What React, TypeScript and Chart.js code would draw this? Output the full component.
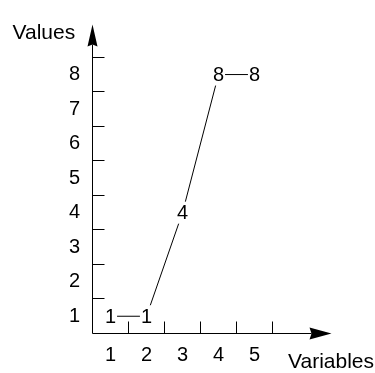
import { useEffect, useRef } from 'react';
import { Chart, registerables } from 'chart.js';

Chart.register(...registerables);

const xValues = [1, 2, 3, 4, 5];
const values = [1, 1, 4, 8, 8];
const xTickLabels = ['1', '2', '3', '4', '5'];
const yTickValues = [1, 2, 3, 4, 5, 6, 7, 8];
const yTickLabels = ['1', '2', '3', '4', '5', '6', '7', '8'];
const xTitle = 'Variables';
const yTitle = 'Values';

const FONT = '"Liberation Sans", Arial, Helvetica, sans-serif';
const FONT_SIZE = 20;
const TITLE_SIZE = 21;

const decorPlugin = {
  id: 'decor',
  beforeDatasetsDraw(chart: any) {
    const { ctx, chartArea: a, scales } = chart;
    const xs = scales.x;
    const ys = scales.y;
    const x0 = xs.getPixelForValue(0.5);
    const y0 = ys.getPixelForValue(0.5);
    ctx.save();
    ctx.strokeStyle = '#000';
    ctx.lineWidth = 1;
    ctx.beginPath();
    ctx.moveTo(x0, y0);
    ctx.lineTo(a.right - 20, y0);
    ctx.moveTo(x0, y0);
    ctx.lineTo(x0, a.top + 20);
    for (let i = 0; i < xValues.length; i++) {
      const px = Math.floor(xs.getPixelForValue(xValues[i] + 0.5)) + 0.5;
      ctx.moveTo(px, y0);
      ctx.lineTo(px, y0 - 12);
    }
    for (let i = 0; i < yTickValues.length; i++) {
      const py = Math.floor(ys.getPixelForValue(yTickValues[i] + 0.5)) + 0.5;
      ctx.moveTo(x0, py);
      ctx.lineTo(x0 + 12, py);
    }
    ctx.stroke();
    ctx.fillStyle = '#000';
    ctx.beginPath();
    ctx.moveTo(a.right, y0);
    ctx.lineTo(a.right - 22, y0 - 6);
    ctx.lineTo(a.right - 20, y0);
    ctx.lineTo(a.right - 22, y0 + 6);
    ctx.closePath();
    ctx.fill();
    ctx.beginPath();
    ctx.moveTo(x0, a.top);
    ctx.lineTo(x0 - 5, a.top + 22);
    ctx.lineTo(x0, a.top + 20);
    ctx.lineTo(x0 + 5, a.top + 22);
    ctx.closePath();
    ctx.fill();
    ctx.font = `${TITLE_SIZE}px ${FONT}`;
    ctx.textBaseline = 'alphabetic';
    ctx.textAlign = 'left';
    ctx.fillText(yTitle, 12.5, 39);
    ctx.textAlign = 'right';
    ctx.fillText(xTitle, 374, 368);
    ctx.restore();
  },
  afterDatasetsDraw(chart: any) {
    const { ctx } = chart;
    const meta = chart.getDatasetMeta(0);
    ctx.save();
    ctx.font = `${FONT_SIZE}px ${FONT}`;
    ctx.textAlign = 'center';
    ctx.textBaseline = 'middle';
    meta.data.forEach((el: any, i: number) => {
      const text = String(values[i]);
      const w = ctx.measureText(text).width;
      ctx.fillStyle = '#fff';
      ctx.fillRect(el.x - w / 2 - 1, el.y - 11, w + 2, 22);
      ctx.fillStyle = '#000';
      ctx.fillText(text, el.x, el.y + 1);
    });
    ctx.restore();
  },
};

export default function App() {
  const ref = useRef<HTMLCanvasElement | null>(null);
  useEffect(() => {
    document.body.style.margin = '0';
    const canvas = ref.current;
    if (!canvas) return;
    const chart = new Chart(canvas, {
      type: 'line',
      data: {
        datasets: [
          {
            data: xValues.map((x, i) => ({ x, y: values[i] })),
            borderColor: '#000',
            borderWidth: 1,
            pointRadius: 0,
            tension: 0,
            fill: false,
            clip: false as any,
          },
        ],
      },
      options: {
        animation: false,
        responsive: false,
        maintainAspectRatio: false,
        layout: { padding: { left: 0, top: 10.4, right: 43.5, bottom: 0 } },
        plugins: { legend: { display: false }, tooltip: { enabled: false } },
        scales: {
          x: {
            type: 'linear',
            min: 0.5,
            max: 7.139,
            grid: { display: false, drawTicks: false },
            border: { display: false },
            afterBuildTicks: (s: any) => {
              s.ticks = xValues.map((v) => ({ value: v }));
            },
            afterFit: (s: any) => {
              s.height = 39.5;
            },
            ticks: {
              autoSkip: false,
              maxRotation: 0,
              padding: 10,
              color: '#000',
              font: { family: FONT, size: FONT_SIZE },
              callback: (v: any) => {
                const i = xValues.indexOf(Number(v));
                return i >= 0 ? xTickLabels[i] : '';
              },
            },
          },
          y: {
            type: 'linear',
            min: 0.5,
            max: 9.45,
            grid: { display: false, drawTicks: false },
            border: { display: false },
            afterBuildTicks: (s: any) => {
              s.ticks = yTickValues.map((v) => ({ value: v }));
            },
            afterFit: (s: any) => {
              s.width = 92.5;
            },
            ticks: {
              autoSkip: false,
              padding: 12.5,
              color: '#000',
              font: { family: FONT, size: FONT_SIZE },
              callback: (v: any) => {
                const i = yTickValues.indexOf(Number(v));
                return i >= 0 ? yTickLabels[i] : '';
              },
            },
          },
        },
      } as any,
      plugins: [decorPlugin],
    });
    return () => chart.destroy();
  }, []);
  return <canvas ref={ref} width={375} height={373} style={{ display: 'block' }} />;
}
